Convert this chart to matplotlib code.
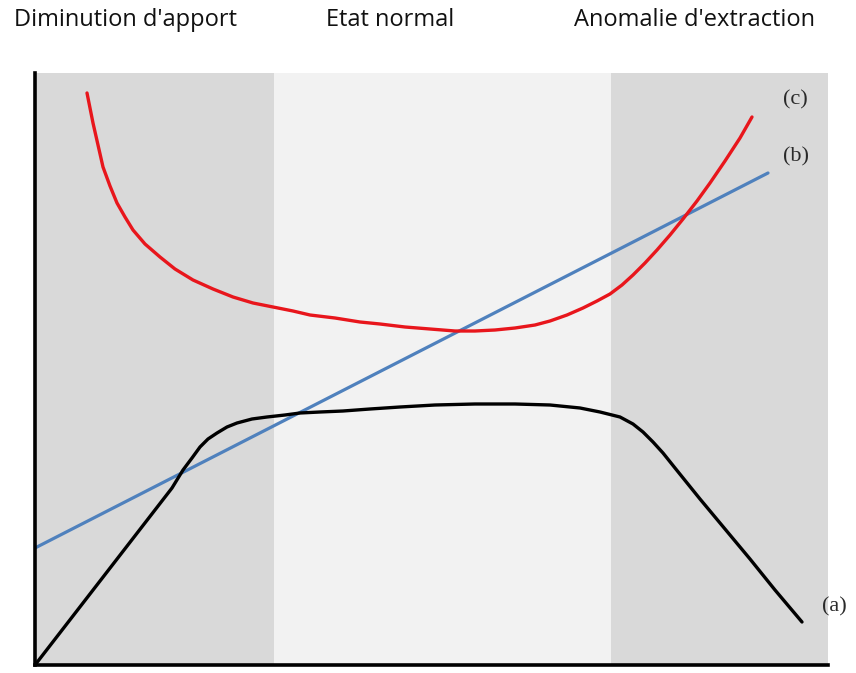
import matplotlib.pyplot as plt

# ----------------------------------------------------------------
# Data (x to the right, y upward, arbitrary units)
# ----------------------------------------------------------------
zone_edges = [0, 239, 576, 793]
zone_labels = ["Diminution d'apport", "Etat normal", "Anomalie d'extraction"]
zone_colors = ['#d9d9d9', '#f2f2f2', '#d9d9d9']

# (a) black curve
a_x = [0, 137, 148, 157, 165, 173, 182, 192, 202, 217, 232, 250, 265, 285, 308, 335,
       365, 400, 440, 480, 515, 545, 565, 585, 598, 608, 618, 628, 640, 665, 690, 715,
       740, 767]
a_y = [0, 177, 195, 207, 218, 226, 232, 238, 242, 246, 248, 250, 252, 253, 254, 256,
       258, 260, 261, 261, 260, 257, 253, 248, 241, 233, 223, 212, 197, 166, 136, 106,
       75, 43]

# (b) blue line
b_x = [0, 733]
b_y = [117, 492]

# (c) red curve
c_x = [52, 55, 58, 63, 68, 75, 82, 90, 98, 110, 125, 140, 158, 178, 198, 218, 238, 258,
       275, 300, 325, 345, 370, 395, 420, 440, 460, 480, 500, 515, 532, 548, 562, 575,
       587, 598, 610, 622, 635, 648, 662, 675, 690, 705, 717]
c_y = [572, 557, 542, 520, 498, 479, 462, 448, 435, 421, 408, 396, 385, 376, 368, 362,
       358, 354, 350, 347, 343, 341, 338, 336, 334, 334, 335, 337, 340, 344, 350, 357,
       364, 371, 380, 390, 402, 415, 430, 446, 464, 482, 504, 527, 548]

curve_labels = ['(a)', '(b)', '(c)']
label_pos = [(787, 58), (748, 508), (748, 565)]

# ----------------------------------------------------------------
# Figure
# ----------------------------------------------------------------
W, H = 856, 673
fig = plt.figure(figsize=(W / 100, H / 100), dpi=100)
ax = fig.add_axes([35 / W, 8 / H, 793 / W, 592 / H])
ax.set_xlim(0, 793)
ax.set_ylim(0, 592)

for i in range(3):
  ax.axvspan(zone_edges[i], zone_edges[i + 1], color=zone_colors[i], lw=0, zorder=0)

ax.plot(b_x, b_y, color='#4f81bd', lw=2.3, solid_capstyle='round', zorder=2)
ax.plot(c_x, c_y, color='#e8161c', lw=2.4, solid_capstyle='round',
        solid_joinstyle='round', zorder=3)
ax.plot(a_x, a_y, color='black', lw=2.4, solid_capstyle='round',
        solid_joinstyle='round', zorder=4)

for lab, (lx, ly) in zip(curve_labels, label_pos):
  ax.text(lx, ly, lab, fontsize=16, family='Liberation Serif', color='#2a2a2a',
          ha='left', va='center', clip_on=False)

ax.set_xticks([])
ax.set_yticks([])
for s in ['top', 'right']:
  ax.spines[s].set_visible(False)
for s in ['left', 'bottom']:
  ax.spines[s].set_linewidth(2.6)
  ax.spines[s].set_color('black')

label_x = [125, 390, 695]
for lab, lx in zip(zone_labels, label_x):
  fig.text(lx / W, 1 - 20 / H, lab, fontsize=17, family='Open Sans',
           ha='center', va='center', color='#111111')

fig.savefig('out.png', dpi=100)
